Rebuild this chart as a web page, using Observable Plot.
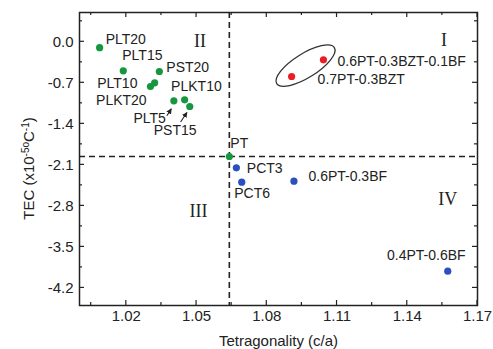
<!DOCTYPE html>
<html><head><meta charset="utf-8">
<script src="https://cdn.jsdelivr.net/npm/d3@7"></script>
<script src="https://cdn.jsdelivr.net/npm/@observablehq/plot@0.6"></script>
<style>
body{margin:0;background:#fff}
svg{font-family:"Liberation Sans",Arial,sans-serif}
</style>
</head><body><div id="chart"></div>
<script>
// ---- data ----
const names = ["PLT20","PLT15","PST20","PLT10","PLKT20","PLT5","PLKT10","PST15","PT",
  "0.6PT-0.3BZT-0.1BF","0.7PT-0.3BZT","PCT3","PCT6","0.6PT-0.3BF","0.4PT-0.6BF"];
const tetragonality = [1.0086,1.0187,1.0341,1.0303,1.0321,1.0403,1.0449,1.0471,1.064,
  1.1042,1.0906,1.067,1.0693,1.0916,1.1573];
const tec = [-0.10,-0.495,-0.507,-0.763,-0.70,-1.007,-0.990,-1.104,-1.957,
  -0.307,-0.592,-2.15,-2.396,-2.379,-3.915];
const group = ["II","II","II","II","II","II","II","II","II","I","I","IV","IV","IV","IV"];
const groupNames = ["II","I","IV"];
const xTicks = [1.02,1.05,1.08,1.11,1.14,1.17];
const xMinor = [1.005,1.035,1.065,1.095,1.125,1.155];
const yTicks = [0.0,-0.7,-1.4,-2.1,-2.8,-3.5,-4.2];
const yMinor = [0.35,-0.35,-1.05,-1.75,-2.45,-3.15,-3.85];
const quadrantNames = ["I","II","III","IV"];
const quadrantX = [1.1557,1.0515,1.0508,1.1573];
const quadrantY = [0.02,0.01,-2.89,-2.68];
const xLabel = "Tetragonality (c/a)";
const yLabelParts = [["TEC (x10",false],["-5o",true],["C",false],["-1",true],[")",false]];

// ---- layout (pixel offsets of labels) ----
const labelLayout = {
  "PLT20":[6,-8,"start"], "PLT15":[-1,-15,"start"], "PST20":[7,-4,"start"],
  "PLT10":[-13,-3,"end"], "PLKT20":[-8,18,"end"], "PLT5":[-8,18,"end"],
  "PLKT10":[-13.5,-13,"start"], "PST15":[-36,24,"start"], "PT":[1,-13,"start"],
  "0.6PT-0.3BZT-0.1BF":[14,2,"start"], "0.7PT-0.3BZT":[26,3.5,"start"],
  "PCT3":[10.5,0.5,"start"], "PCT6":[-7.5,11,"start"], "0.6PT-0.3BF":[14.5,-4.5,"start"],
  "0.4PT-0.6BF":[-21.5,-15.5,"middle"]
};
const arrowLayout = {"PLT5":[-6.5,15.5,-2,8.5], "PST15":[-8.7,16,-2.3,6.5]};

const pts = names.map((n,i)=>({name:n, x:tetragonality[i], y:tec[i], g:group[i]}));
const quads = quadrantNames.map((n,i)=>({name:n, x:quadrantX[i], y:quadrantY[i]}));
const pt = pts.find(d=>d.name==="PT");
const ink = "#222";

const ticksMark = (index, {x, y}, values, dims) => {
  const g = d3.create("svg:g").attr("stroke", ink).attr("stroke-width", 1.2);
  const top = dims.marginTop, bottom = dims.height - dims.marginBottom;
  const left = dims.marginLeft, right = dims.width - dims.marginRight;
  for (const [vals, len] of [[xTicks,5],[xMinor,3]]) for (const v of vals) {
    g.append("line").attr("x1", x(v)).attr("x2", x(v)).attr("y1", bottom).attr("y2", bottom-len);
    g.append("line").attr("x1", x(v)).attr("x2", x(v)).attr("y1", top).attr("y2", top+len);
  }
  for (const [vals, len] of [[yTicks,5],[yMinor,3]]) for (const v of vals) {
    g.append("line").attr("y1", y(v)).attr("y2", y(v)).attr("x1", left).attr("x2", left+len);
    g.append("line").attr("y1", y(v)).attr("y2", y(v)).attr("x1", right).attr("x2", right-len);
  }
  return g.node();
};

const yLabelMark = (index, scales, values, dims) => {
  const top = dims.marginTop, bottom = dims.height - dims.marginBottom;
  const cx = dims.marginLeft - 45, cy = (top + bottom) / 2 + 10;
  const t = d3.create("svg:text").attr("transform", `translate(${cx},${cy}) rotate(-90)`)
    .attr("text-anchor", "middle").attr("font-size", 15).attr("fill", ink);
  for (const [s, sup] of yLabelParts) {
    const ts = t.append("tspan").text(s);
    if (sup) ts.attr("font-size", 10).attr("baseline-shift", "super");
  }
  return t.node();
};

const ellipseMark = (index, {x, y}) => {
  const red = pts.filter(d=>d.g==="I");
  const cx = d3.mean(red, d=>x(d.x)) - 1.5, cy = d3.mean(red, d=>y(d.y)) - 2;
  return d3.create("svg:ellipse").attr("cx", cx).attr("cy", cy).attr("rx", 34).attr("ry", 12)
    .attr("transform", `rotate(-32 ${cx} ${cy})`).attr("fill", "none").attr("stroke", "#333").attr("stroke-width", 1.3).node();
};

const arrowsMark = (index, {x, y}) => {
  const g = d3.create("svg:g");
  g.append("defs").append("marker").attr("id","ah").attr("viewBox","0 0 10 10").attr("refX",9).attr("refY",5)
    .attr("markerWidth",5).attr("markerHeight",5).attr("orient","auto")
    .append("path").attr("d","M0,0L10,5L0,10z").attr("fill",ink);
  for (const [n, o] of Object.entries(arrowLayout)) {
    const d = pts.find(p=>p.name===n);
    const px = x(d.x), py = y(d.y);
    g.append("line").attr("x1", px+o[0]).attr("y1", py+o[1]).attr("x2", px+o[2]).attr("y2", py+o[3])
      .attr("stroke", ink).attr("stroke-width", 1.1).attr("marker-end","url(#ah)");
  }
  return g.node();
};

const labelMarks = pts.map(d => {
  const [dx, dy, anchor] = labelLayout[d.name];
  return Plot.text([d], {x:"x", y:"y", text:"name", dx, dy, textAnchor:anchor, fontSize:14, fill:ink});
});

const chart = Plot.plot({
  width: 493, height: 349,
  marginLeft: 79, marginRight: 16, marginTop: 12, marginBottom: 44,
  style: {fontFamily: '"Liberation Sans", Arial, sans-serif', background: "#fff"},
  x: {domain: [1.0, 1.17]},
  y: {domain: [-4.5, 0.5]},
  color: {type: "ordinal", domain: groupNames, range: ["#16963f", "#ec1c24", "#2c4fbe"]},
  marks: [
    Plot.ruleX([pt], {x:"x", stroke: ink, strokeWidth: 1.6, strokeDasharray: "6,4"}),
    Plot.ruleY([pt], {y:"y", stroke: ink, strokeWidth: 1.6, strokeDasharray: "6,4"}),
    ellipseMark,
    Plot.dot(pts, {x:"x", y:"y", fill:"g", r:3.6}),
    ...labelMarks,
    arrowsMark,
    Plot.text(quads, {x:"x", y:"y", text:"name", fontSize:18, fontFamily:'"Liberation Serif", "Times New Roman", serif', fill:ink}),
    Plot.axisX({ticks: xTicks, tickSize: 0, tickPadding: 5, tickFormat: d=>d.toFixed(2), fontSize: 15, color: ink,
      label: xLabel, labelAnchor: "center", labelOffset: 40, labelArrow: "none"}),
    Plot.axisY({ticks: yTicks, tickSize: 0, tickPadding: 6, tickFormat: d=>d.toFixed(1), fontSize: 15, color: ink, label: null}),
    yLabelMark,
    ticksMark,
    Plot.frame({stroke: ink, strokeWidth: 1.5})
  ]
});
document.getElementById("chart").append(chart);
</script>
</body></html>
